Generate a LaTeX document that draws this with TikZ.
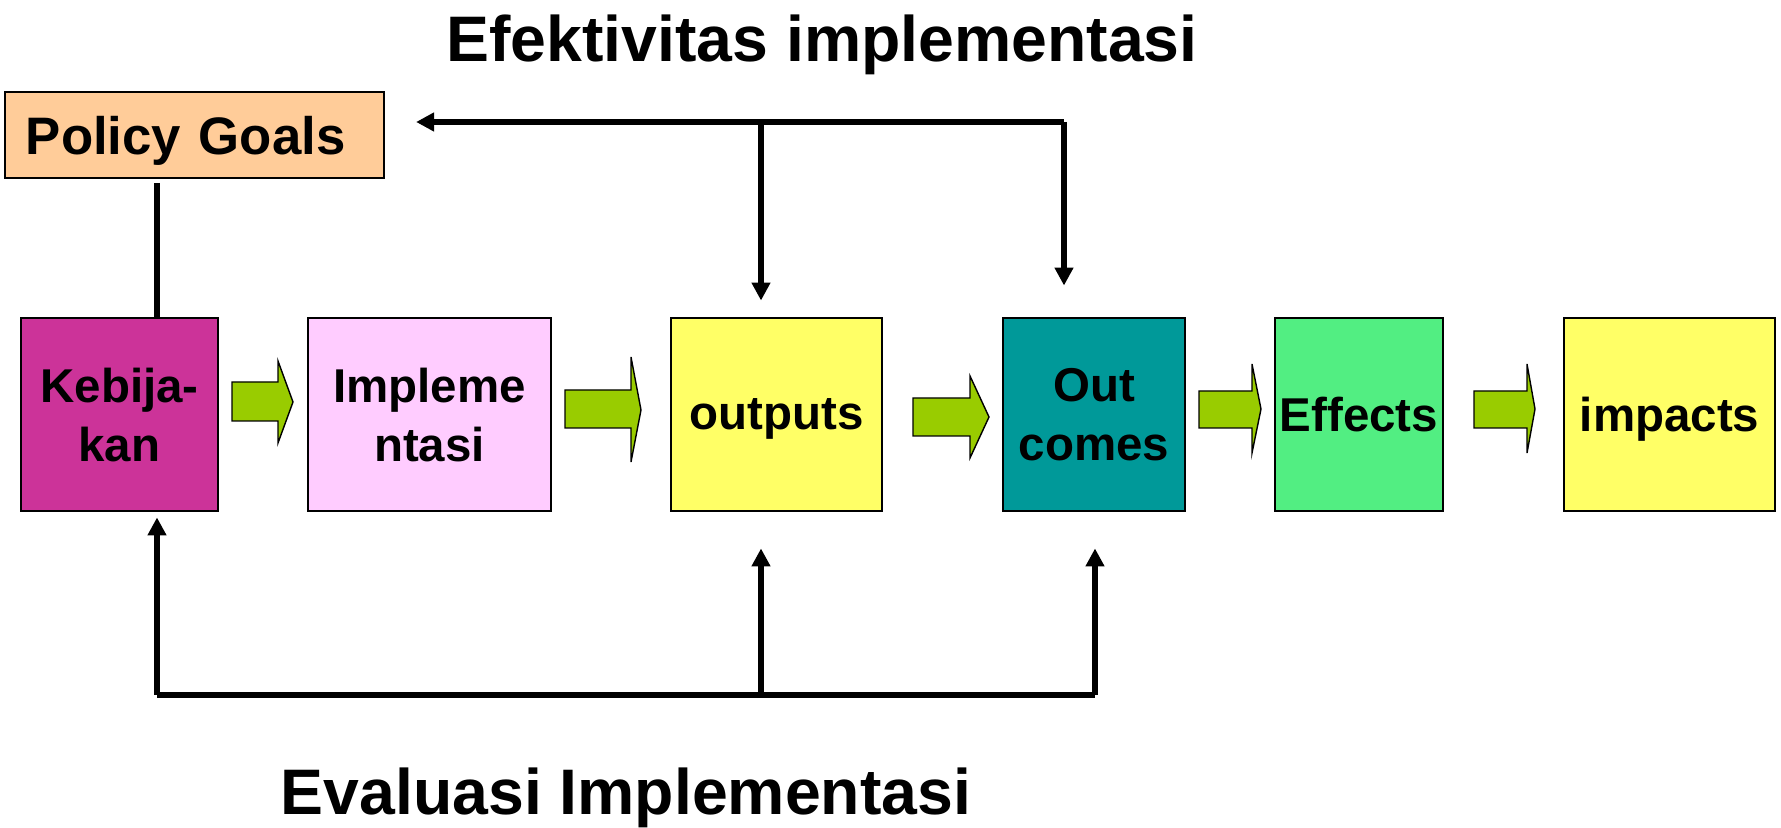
\documentclass[tikz,border=0pt]{standalone}
\usepackage{fontspec}
\setmainfont{Liberation Sans}
\usepackage{xcolor}
\usepackage{tikz}
\usetikzlibrary{calc,arrows.meta}
\definecolor{peach}{HTML}{FFCC99}
\definecolor{magenta}{HTML}{CC3399}
\definecolor{pink}{HTML}{FFCCFF}
\definecolor{lemon}{HTML}{FFFF66}
\definecolor{teal}{HTML}{009999}
\definecolor{mint}{HTML}{52EE82}
\definecolor{lime}{HTML}{99CC00}
\tikzset{
  stageBox/.style={draw=black, line width=0.028cm, inner sep=0pt,
    minimum height=1.93cm, align=center, text depth=0pt,
    font=\fontsize{13.5}{16.8}\selectfont\bfseries},
  goalBox/.style={draw=black, line width=0.02cm, fill=peach, inner xsep=0.21cm,
    text width=3.37cm, minimum height=0.86cm, align=left, text depth=0pt,
    font=\fontsize{15}{18}\selectfont\bfseries},
  titleText/.style={font=\fontsize{18.3}{22}\selectfont\bfseries, anchor=base, inner sep=0pt},
  feedLine/.style={draw=black, line width=0.052cm},
  feedArrow/.style={feedLine, -{Triangle[length=0.18cm,width=0.18cm]}},
  flowArrow/.style={draw=black, line width=0.4pt, fill=lime}
}
% block arrow: start x, head base x, tip x, shaft top, shaft bottom, head top, head bottom, tip y
\newcommand{\blockArrow}[8]{%
  \draw[flowArrow] (#1,#4) -- (#2,#4) -- (#2,#6) -- (#3,#8) -- (#2,#7) -- (#2,#5) -- (#1,#5) -- cycle;}

\begin{document}
\begin{tikzpicture}[x=0.01cm, y=-0.01cm]
  \useasboundingbox (0,0) rectangle (1781,828);

  % stages
  \node[stageBox, fill=magenta, minimum width=1.97cm] (keb)  at (119.5,414.5) {Kebija-\\kan};
  \node[stageBox, fill=pink,    minimum width=2.43cm] (impl) at (429.5,414.5) {Impleme\\ntasi};
  \node[stageBox, fill=lemon,   minimum width=2.11cm] (outp) at (776.5,414.5) {outputs};
  \node[stageBox, fill=teal,    minimum width=1.82cm] (outc) at (1094,414.5) {Out\\comes};
  \node[stageBox, fill=mint,    minimum width=1.68cm] (eff)  at (1359,414.5) {Effects};
  \node[stageBox, fill=lemon,   minimum width=2.11cm] (imp)  at (1669.5,414.5) {impacts};

  \node[goalBox] (goals) at (194.5,135) {Policy Goals};

  % green arrows between stages
  \blockArrow{232}{278}{293}{382}{421}{361}{443}{402}
  \blockArrow{565}{631}{641}{390}{428}{357}{462}{410}
  \blockArrow{913}{970}{989}{398}{436}{376}{458}{417}
  \blockArrow{1199}{1252}{1261}{391}{428}{364}{453}{409}
  \blockArrow{1474}{1527}{1535}{391}{428}{364}{453}{409}

  % goals to policy
  \coordinate (goalFoot) at (157,183);
  \draw[feedLine] (goalFoot) -- (goalFoot |- keb.north);

  % effectiveness feedback
  \coordinate (topM) at (761,122);
  \coordinate (topR) at (1064,122);
  \draw[feedArrow] (topR) -- ($(goals.east |- topR)+(31,0)$);
  \draw[feedArrow] (topM) -- ($(topM |- outp.north)+(0,-16)$);
  \draw[feedArrow] (topR) -- ($(topR |- outc.north)+(0,-31)$);

  % evaluation feedback
  \coordinate (botL) at (157,695);
  \coordinate (botM) at (761,695);
  \coordinate (botR) at (1095,695);
  \draw[feedLine, line width=0.062cm] (botL) -- (botR);
  \draw[feedArrow] (botL) -- ($(botL |- keb.south)+(0,5)$);
  \draw[feedArrow] (botM) -- ($(botM |- outp.south)+(0,36)$);
  \draw[feedArrow] (botR) -- ($(botR |- outc.south)+(0,36)$);

  % titles
  \node[titleText] (effTitle)  at (822,62)  {Efektivitas implementasi};
  \node[titleText] (evalTitle) at (626,815) {Evaluasi Implementasi};
\end{tikzpicture}
\end{document}
